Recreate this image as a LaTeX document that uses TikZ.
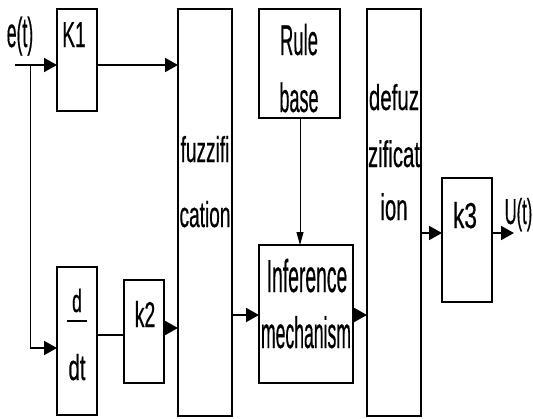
\documentclass[tikz,border=0pt]{standalone}
\usepackage{fontspec}
\usepackage{graphicx}
\newfontfamily\lsans[FakeBold=0.6]{Liberation Sans}
\newcommand\T[3]{\fontsize{#1}{#1}\selectfont\lsans\scalebox{#2}[1]{#3}}
\usetikzlibrary{arrows.meta}
\begin{document}
\begin{tikzpicture}[x=1pt,y=-1pt,
  blk/.style={draw, line width=1.4pt, inner sep=0pt, outer sep=0pt, anchor=north west,
    append after command={[line width=2.6pt]
      (\tikzlastnode.north west) edge (\tikzlastnode.north east)
      (\tikzlastnode.south west) edge (\tikzlastnode.south east)}},
  txt/.style={inner sep=0pt, anchor=base},
  arr/.style={-{Triangle[length=13pt,width=14pt]}, line width=2pt},
  ln/.style={line width=2pt},
  thin/.style={line width=1pt},
  tarr/.style={-{Triangle[length=13pt,width=7pt]}, line width=1pt}]
\useasboundingbox (0,0) rectangle (533,418);
% boxes
\node[blk, minimum width=40pt, minimum height=102pt] (K1) at (57,9) {};
\node[blk, minimum width=40pt, minimum height=148pt] (ddt) at (57,267) {};
\node[blk, minimum width=40pt, minimum height=103pt] (k2) at (124,280) {};
\node[blk, minimum width=54pt, minimum height=407pt] (fz) at (178,9) {};
\node[blk, minimum width=81pt, minimum height=109pt] (rb) at (259,9) {};
\node[blk, minimum width=94pt, minimum height=138pt] (inf) at (259,245) {};
\node[blk, minimum width=54pt, minimum height=407pt] (dfz) at (367,9) {};
\node[blk, minimum width=50pt, minimum height=124pt] (k3) at (442,178) {};
% texts
\node[txt] (et) at (20,47) {\T{42}{0.42}{e(t)}};
\node[txt] (tK1) at (74,47) {\T{36}{0.53}{K1}};
\node[txt] (tRule) at (299,55) {\T{43}{0.43}{Rule}};
\node[txt] (tbase) at (299,112) {\T{41}{0.44}{base}};
\node[txt] (tfz1) at (205,162) {\T{36}{0.53}{fuzzifi}};
\node[txt] (tfz2) at (205,227) {\T{36}{0.53}{cation}};
\node[txt] (tdf1) at (394,110) {\T{36}{0.57}{defuz}};
\node[txt] (tdf2) at (394,167) {\T{37}{0.55}{zificat}};
\node[txt] (tdf3) at (394,220) {\T{37}{0.55}{ion}};
\node[txt] (tk3) at (465,228) {\T{36}{0.63}{k3}};
\node[txt] (tU) at (518.5,224) {\T{36}{0.46}{U(t)}};
\node[txt] (tk2) at (145,327) {\T{36}{0.54}{k2}};
\node[txt] (td) at (77,312) {\T{32}{0.55}{d}};
\node[txt] (tdt) at (77,380) {\T{36}{0.57}{dt}};
\node[txt] (tinf1) at (307,292) {\T{46}{0.42}{Inference}};
\node[txt] (tinf2) at (306,348) {\T{44}{0.40}{mechanism}};
\draw[line width=2.6pt] (67,321) -- (87,321);
% connectors
\coordinate (ein) at (15,65);
\coordinate (br) at (30,65);
\coordinate (brd) at (30,348);
\coordinate (uout) at (514,233);
\draw[arr] (ein) -- (ein -| K1.west);
\draw[thin] (br) -- (brd);
\draw[arr] (brd) -- (brd -| ddt.west);
\draw[arr] (K1.east |- ein) -- (fz.west |- ein);
\draw[ln] (ddt.east |- 0,335) -- (k2.west |- 0,335);
\draw[arr] (k2.east |- 0,328) -- (fz.west |- 0,328);
\draw[arr] (fz.east |- 0,315) -- (inf.west |- 0,315);
\draw[arr] (inf.east |- 0,315) -- (dfz.west |- 0,315);
\draw[tarr] (rb.south -| 300,0) -- (inf.north -| 300,0);
\draw[arr] (dfz.east |- uout) -- (k3.west |- uout);
\draw[arr] (k3.east |- uout) -- (uout);
\end{tikzpicture}
\end{document}
